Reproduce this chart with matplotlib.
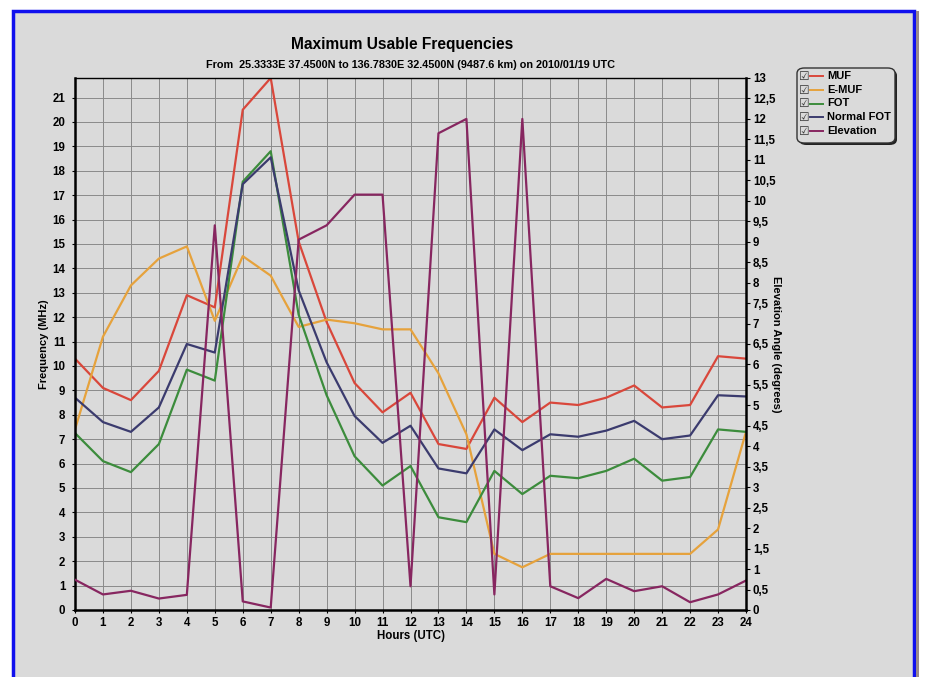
import numpy as np
import matplotlib.pyplot as plt
from matplotlib.patches import Rectangle, FancyBboxPatch
from matplotlib.lines import Line2D
from matplotlib.ticker import FixedLocator, FuncFormatter

plt.rcParams['font.family'] = ['Liberation Sans', 'DejaVu Sans']

hours = np.arange(0, 25)
muf = [10.3, 9.1, 8.6, 9.8, 12.9, 12.4, 20.5, 21.8, 15.1, 11.8, 9.3, 8.1, 8.9,
       6.8, 6.6, 8.7, 7.7, 8.5, 8.4, 8.7, 9.2, 8.3, 8.4, 10.4, 10.3]
emuf = [7.4, 11.2, 13.3, 14.4, 14.9, 11.85, 14.5, 13.7, 11.6, 11.9, 11.75, 11.5, 11.5,
        9.7, 7.2, 2.3, 1.75, 2.3, 2.3, 2.3, 2.3, 2.3, 2.3, 3.3, 7.3]
fot = [7.25, 6.1, 5.65, 6.8, 9.85, 9.4, 17.55, 18.8, 12.1, 8.8, 6.3, 5.1, 5.9,
       3.8, 3.6, 5.7, 4.75, 5.5, 5.4, 5.7, 6.2, 5.3, 5.45, 7.4, 7.3]
normal_fot = [8.7, 7.7, 7.3, 8.3, 10.9, 10.55, 17.45, 18.55, 13.1, 10.15, 7.95, 6.85, 7.55,
              5.8, 5.6, 7.4, 6.55, 7.2, 7.1, 7.35, 7.75, 7.0, 7.15, 8.8, 8.75]
elevation = [0.74, 0.38, 0.47, 0.28, 0.37, 9.4, 0.21, 0.06, 9.05, 9.4, 10.15, 10.15, 0.58,
             11.65, 12.0, 0.38, 12.0, 0.58, 0.29, 0.76, 0.46, 0.58, 0.19, 0.38, 0.72]

names = ['MUF', 'E-MUF', 'FOT', 'Normal FOT', 'Elevation']
colors = ['#d9473b', '#e6a23c', '#3c8c3c', '#3b3b6e', '#872660']

W, H = 930, 677
bg = '#dadada'
fig = plt.figure(figsize=(9.3, 6.77), dpi=100, facecolor='white')

def fx(px):
    return px / W

def fy(py):
    return 1 - py / H

# page frame, kept behind the axes
fig.patches.append(Rectangle((fx(13), fy(690)), fx(901), fy(11) - fy(690),
                             transform=fig.transFigure, facecolor=bg,
                             edgecolor='#1010ee', linewidth=2.5, zorder=-10))
fig.patches.append(Rectangle((fx(915.5), fy(690)), fx(3.5), fy(11) - fy(690),
                             transform=fig.transFigure, facecolor='#9a8a8a',
                             edgecolor='none', zorder=-10))

ax = fig.add_axes([fx(75), fy(610), fx(746) - fx(75), fy(78) - fy(610)])
ax.set_facecolor(bg)
ax.set_xlim(0, 24)
ax.set_ylim(0, 21.8)
ax.set_xticks(hours)
ax.set_yticks(np.arange(0, 22))
ax.grid(True, color='#8a8a8a', linewidth=0.7)
ax.set_axisbelow(True)
ax.tick_params(axis='both', labelsize=8.3, length=2, width=0.8, pad=5)
ax.tick_params(axis='x', pad=3)
for lab in ax.get_xticklabels() + ax.get_yticklabels():
    lab.set_fontweight('bold')
for s in ['left', 'bottom']:
    ax.spines[s].set_linewidth(1.8)
ax.spines['top'].set_linewidth(1.0)
ax.spines['right'].set_visible(False)

for vals, name, c in zip([muf, emuf, fot, normal_fot], names[:4], colors[:4]):
    ax.plot(hours, vals, color=c, linewidth=1.6, label=name)

ax2 = ax.twinx()
ax2.set_ylim(0, 13)
ax2.yaxis.set_major_locator(FixedLocator(np.arange(0, 13.5, 0.5)))
ax2.yaxis.set_major_formatter(FuncFormatter(lambda v, p: f'{v:g}'.replace('.', ',')))
ax2.tick_params(axis='y', labelsize=8.3, length=3, width=0.8, pad=2)
for lab in ax2.get_yticklabels():
    lab.set_fontweight('bold')
ax2.spines['right'].set_linewidth(1.8)
for s in ['left', 'bottom', 'top']:
    ax2.spines[s].set_visible(False)
ax2.plot(hours, elevation, color=colors[4], linewidth=1.6, label=names[4])

ax.set_xlabel('Hours (UTC)', fontsize=8.3, fontweight='bold', labelpad=1)
ax.set_ylabel('Frequency (MHz)', fontsize=8, fontweight='bold', labelpad=2)
ax2.set_ylabel('Elevation Angle (degrees)', fontsize=8, fontweight='bold',
               rotation=270, labelpad=4)

fig.text(fx(402), fy(45), 'Maximum Usable Frequencies', ha='center', va='center',
         fontsize=11.2, fontweight='bold')
fig.text(fx(410), fy(65),
         'From  25.3333E 37.4500N to 136.7830E 32.4500N (9487.6 km) on 2010/01/19 UTC',
         ha='center', va='center', fontsize=7.8, fontweight='bold')

# legend box with checkboxes
fig.patches.append(FancyBboxPatch((fx(799), fy(145)), fx(98), fy(70) - fy(145),
                                  boxstyle='round,pad=0,rounding_size=0.008',
                                  transform=fig.transFigure, facecolor='#222222',
                                  edgecolor='none', zorder=2))
fig.patches.append(FancyBboxPatch((fx(797), fy(143)), fx(98), fy(68) - fy(143),
                                  boxstyle='round,pad=0,rounding_size=0.008',
                                  transform=fig.transFigure, facecolor=bg,
                                  edgecolor='#333333', linewidth=1.0, zorder=3))
row_y = [76, 90, 103.5, 117, 131]
for ry, name, c in zip(row_y, names, colors):
    fig.text(fx(799), fy(ry), '\u2611', ha='left', va='center', fontsize=8.5,
             family=['DejaVu Sans'], color='#333333', zorder=4)
    fig.lines.append(Line2D([fx(810), fx(823)], [fy(ry), fy(ry)], color=c,
                            linewidth=1.4, transform=fig.transFigure, zorder=4))
    fig.text(fx(827), fy(ry), name, ha='left', va='center', fontsize=8,
             fontweight='bold', zorder=4)

fig.savefig('out.png', dpi=100, facecolor='white')
